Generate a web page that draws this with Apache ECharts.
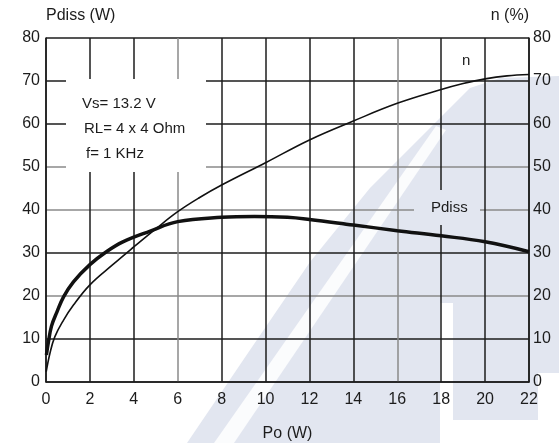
<!DOCTYPE html>
<html>
<head>
<meta charset="utf-8">
<script src="https://cdn.jsdelivr.net/npm/echarts@6/dist/echarts.min.js"></script>
<style>
html,body{margin:0;padding:0;background:#fff;}
#chart{width:559px;height:443px;}
</style>
</head>
<body>
<div id="chart"></div>
<script>
// Data
const xTicks = [0, 2, 4, 6, 8, 10, 12, 14, 16, 18, 20, 22];
const yTicks = [0, 10, 20, 30, 40, 50, 60, 70, 80];

const pdissPo  = [0.02, 0.1, 0.25, 0.5, 0.8, 1.25, 2, 2.75, 3.5, 4.75, 6, 8, 9.5, 11, 12, 14, 16, 18, 20, 22];
const pdissVal = [6.3, 9, 13, 16.3, 19.8, 23.3, 27.3, 30.3, 32.6, 35.1, 37.3, 38.3, 38.5, 38.3, 37.8, 36.5, 35.2, 34.0, 32.6, 30.3];

const effPo  = [0.01, 0.18, 0.4, 0.8, 1.25, 2, 3, 4, 5, 6, 7, 8, 10, 12, 14, 16, 18, 19, 20, 21, 22];
const effVal = [2.4, 6.7, 10.5, 14.4, 17.9, 22.6, 27.1, 31.4, 35.6, 39.6, 42.9, 45.8, 51, 56.3, 60.7, 64.8, 68.0, 69.4, 70.5, 71.2, 71.5];

const annotations = ['Vs= 13.2 V', 'RL= 4 x 4 Ohm', 'f= 1 KHz'];

const FONT = 'Liberation Sans';
const DARK = '#1c1c1c';
const GRAY = '#8a8a8a';
const WM = '#e2e6f0';

const chart = echarts.init(document.getElementById('chart'));

const option = {
  animation: false,
  backgroundColor: '#fff',
  grid: { left: 46, right: 30, top: 38, bottom: 61, containLabel: false, outerBoundsMode: 'none' },
  xAxis: {
    type: 'value', min: 0, max: 22, interval: 2,
    name: 'Po (W)', nameLocation: 'middle', nameGap: 44,
    nameTextStyle: { fontFamily: FONT, fontSize: 16, color: DARK },
    axisLine: { show: true, lineStyle: { color: DARK, width: 1.5 } },
    axisTick: { show: false },
    axisLabel: { fontFamily: FONT, fontSize: 16, color: DARK, margin: 10 },
    splitLine: { show: true, lineStyle: { width: 1.5,
      color: [DARK, DARK, DARK, GRAY, DARK, DARK, DARK, DARK, GRAY, DARK, DARK, DARK] } }
  },
  yAxis: [
    {
      type: 'value', min: 0, max: 80, interval: 10, position: 'left',
      name: 'Pdiss (W)', nameLocation: 'end', nameGap: 14,
      nameTextStyle: { fontFamily: FONT, fontSize: 16, color: DARK, align: 'left' },
      axisLine: { show: true, lineStyle: { color: DARK, width: 1.5 } },
      axisTick: { show: false },
      axisLabel: { fontFamily: FONT, fontSize: 16, color: DARK, margin: 6 },
      splitLine: { show: true, lineStyle: { width: 1.5,
        color: [DARK, DARK, GRAY, DARK, GRAY, GRAY, DARK, DARK, DARK] } }
    },
    {
      type: 'value', min: 0, max: 80, interval: 10, position: 'right',
      name: 'n (%)', nameLocation: 'end', nameGap: 14,
      nameTextStyle: { fontFamily: FONT, fontSize: 16, color: DARK, align: 'right' },
      axisLine: { show: true, lineStyle: { color: DARK, width: 1.5 } },
      axisTick: { show: false },
      axisLabel: { fontFamily: FONT, fontSize: 16, color: DARK, margin: 4 },
      splitLine: { show: false }
    }
  ],
  graphic: [
    // faint background watermark
    { type: 'polygon', z: -10, silent: true,
      shape: { points: [[187,443],[250,350],[310,262],[370,188],[430,128],[470,88],[500,78],[559,76],[559,373],[538,373],[538,420],[453,420],[453,303],[440,303],[440,443]] },
      style: { fill: WM } },
    { type: 'polygon', z: -9, silent: true,
      shape: { points: [[214,443],[234,443],[446,130],[436,126]] },
      style: { fill: '#ffffff', opacity: 0.85 } },
    // white annotation box (breaks grid lines)
    { type: 'rect', z: 1, silent: true,
      shape: { x: 66, y: 79, width: 140, height: 93 },
      style: { fill: '#ffffff' } },
    // box behind "Pdiss" label
    { type: 'rect', z: 1, silent: true,
      shape: { x: 414, y: 190, width: 66, height: 35 },
      style: { fill: WM } },
    { type: 'text', z: 3, left: 82, top: 96,
      style: { text: annotations[0], fontFamily: FONT, fontSize: 15, fill: DARK } },
    { type: 'text', z: 3, left: 84, top: 121,
      style: { text: annotations[1], fontFamily: FONT, fontSize: 15, fill: DARK } },
    { type: 'text', z: 3, left: 86, top: 146,
      style: { text: annotations[2], fontFamily: FONT, fontSize: 15, fill: DARK } },
    { type: 'text', z: 3, left: 462, top: 53,
      style: { text: 'n', fontFamily: FONT, fontSize: 15, fill: DARK } },
    { type: 'text', z: 3, left: 431, top: 200,
      style: { text: 'Pdiss', fontFamily: FONT, fontSize: 15, fill: DARK } }
  ],
  series: [
    {
      name: 'Pdiss', type: 'line', yAxisIndex: 0, smooth: 0.4, showSymbol: false,
      lineStyle: { color: '#111', width: 3.5 },
      data: pdissPo.map((x, i) => [x, pdissVal[i]]),
      z: 4
    },
    {
      name: 'n', type: 'line', yAxisIndex: 1, smooth: 0.4, showSymbol: false,
      lineStyle: { color: '#111', width: 1.6 },
      data: effPo.map((x, i) => [x, effVal[i]]),
      z: 4
    }
  ]
};
chart.setOption(option);
</script>
</body>
</html>
